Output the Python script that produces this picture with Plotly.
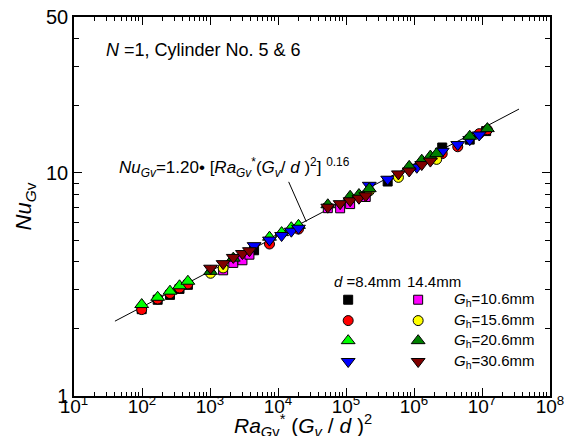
import plotly.graph_objects as go

# ---------------- data ----------------
# d = 8.4 mm
sq84_x = [99, 170, 258, 356, 473, 4450, 4.1e5, 2.6e6, 6.6e6, 1.15e7]
sq84_y = [2.45, 2.70, 2.84, 3.02, 3.15, 4.50, 9.15, 13.0, 14.1, 15.4]
ci84_x = [99, 170, 258, 356, 473, 7500, 2.0e4, 2.6e6, 4.4e6, 9.1e6, 1.2e7]
ci84_y = [2.44, 2.72, 2.88, 3.05, 3.18, 4.80, 5.60, 12.2, 13.1, 15.0, 15.6]
up84_x = [99, 170, 258, 356, 473, 7500, 1.13e4, 1.57e4, 2.0e4]
up84_y = [2.57, 2.77, 2.95, 3.12, 3.27, 5.15, 5.40, 5.68, 5.82]
dn84_x = [4450, 7500, 1.13e4, 1.57e4, 2.0e4, 2.2e5, 4.1e5, 1.1e6, 2.6e6, 4.4e6, 6.6e6, 9.1e6]
dn84_y = [4.72, 5.00, 5.24, 5.48, 5.65, 8.80, 9.37, 10.6, 12.5, 13.4, 14.1, 14.8]
# d = 14.4 mm
sq144_x = [1560, 2200, 3000, 3800, 5.4e4, 8.2e4, 1.15e5, 1.95e5]
sq144_y = [3.66, 3.95, 4.06, 4.30, 6.95, 6.94, 7.25, 7.80]
ci144_x = [1020, 1560, 2.2e5, 5.9e5, 2.15e6]
ci144_y = [3.55, 3.75, 8.30, 9.55, 11.5]
up144_x = [1020, 2200, 5.4e4, 1.15e5, 1.55e5, 2.2e5, 8.5e5, 1.3e6, 1.74e6, 2.15e6, 6.6e6, 1.2e7]
up144_y = [3.62, 4.15, 7.20, 7.86, 8.00, 8.50, 10.7, 11.4, 11.9, 12.2, 14.6, 15.8]
dn144_x = [1020, 1560, 2200, 3000, 3800, 5.4e4, 8.2e4, 1.15e5, 1.55e5, 1.95e5, 5.9e5, 8.5e5, 1.3e6, 1.74e6]
dn144_y = [3.74, 3.92, 4.18, 4.35, 4.48, 7.02, 7.28, 7.50, 7.70, 7.90, 9.90, 10.2, 10.9, 11.3]

# correlation Nu = C * X^n
fit_C = 1.20
fit_n = 0.16
fit_x = [40, 3.5e7]

gh_labels = ["10.6", "15.6", "20.6", "30.6"]
x_tickvals = [10, 100, 1e3, 1e4, 1e5, 1e6, 1e7, 1e8]
x_ticktext = ["10<sup>%d</sup>" % i for i in range(1, 9)]
y_tickvals = [1, 10, 50]
y_ticktext = ["1", "10", "50"]

FONT = "Arial, Liberation Sans, sans-serif"

series = [
    (sq84_x, sq84_y, "square", "#000000", 9),
    (ci84_x, ci84_y, "circle", "#ff0000", 10),
    (up84_x, up84_y, "triangle-up", "#00ff00", 12),
    (dn84_x, dn84_y, "triangle-down", "#0000ff", 12),
    (sq144_x, sq144_y, "square", "#ff00ff", 9),
    (ci144_x, ci144_y, "circle", "#ffff00", 10),
    (up144_x, up144_y, "triangle-up", "#008000", 12),
    (dn144_x, dn144_y, "triangle-down", "#800000", 12),
]

fig = go.Figure()

fig.add_trace(go.Scatter(
    x=fit_x, y=[fit_C * v ** fit_n for v in fit_x], mode="lines",
    line=dict(color="black", width=1), showlegend=False, hoverinfo="skip"))

for xs, ys, sym, col, sz in series:
    fig.add_trace(go.Scatter(
        x=xs, y=ys, mode="markers", showlegend=False,
        marker=dict(symbol=sym, color=col, size=sz,
                    line=dict(color="black", width=1))))

# ---------------- custom legend on an overlay axis (0..1) ----------------
leg_cols = [0.576, 0.723]
leg_rows = [0.254, 0.199, 0.146, 0.091]
for i, (xs, ys, sym, col, sz) in enumerate(series):
    c = i // 4
    r = i % 4
    fig.add_trace(go.Scatter(
        x=[leg_cols[c]], y=[leg_rows[r]], xaxis="x2", yaxis="y2",
        mode="markers", showlegend=False, hoverinfo="skip",
        marker=dict(symbol=sym, color=col, size=sz,
                    line=dict(color="black", width=1))))

annotations = []
for r, lab in enumerate(gh_labels):
    annotations.append(dict(
        xref="x2", yref="y2", x=0.795, y=leg_rows[r], xanchor="left",
        yanchor="middle", showarrow=False,
        text="<i>G</i><sub>h</sub>=%smm" % lab,
        font=dict(family=FONT, size=15, color="black")))
annotations.append(dict(
    xref="x2", yref="y2", x=0.541, y=0.301, xanchor="left", yanchor="middle",
    showarrow=False, text="<i>d</i> =8.4mm",
    font=dict(family=FONT, size=15, color="black")))
annotations.append(dict(
    xref="x2", yref="y2", x=0.695, y=0.301, xanchor="left", yanchor="middle",
    showarrow=False, text="14.4mm",
    font=dict(family=FONT, size=15, color="black")))
annotations.append(dict(
    xref="x2", yref="y2", x=0.063, y=0.912, xanchor="left", yanchor="middle",
    showarrow=False, text="<i>N</i> =1, Cylinder No. 5 &amp; 6",
    font=dict(family=FONT, size=18, color="black")))
annotations.append(dict(
    xref="x2", yref="y2", x=0.090, y=0.603, xanchor="left", yanchor="middle",
    showarrow=False,
    text=("<i>Nu</i><sub><i>Gv</i></sub>=1.20• [<i>Ra</i><sub><i>Gv</i></sub>"
          "<sup>*</sup>(<i>G</i><sub><i>v</i></sub>/ <i>d</i> )<sup>2</sup>] "
          "<sup>0.16</sup>"),
    font=dict(family=FONT, size=17, color="black")))
# x-axis title placed explicitly below the tick labels
annotations.append(dict(
    xref="paper", yref="paper", x=0.482, y=-0.034, xanchor="center",
    yanchor="top", showarrow=False,
    text=("<i>Ra</i><sub><i>G</i>v</sub><sup>*</sup> "
          "(<i>G</i><sub><i>v</i></sub> / <i>d</i> )<sup>2</sup>"),
    font=dict(family=FONT, size=21, color="black")))

shapes = [dict(type="line", xref="x2", yref="y2", x0=0.451, y0=0.565,
               x1=0.488, y1=0.460, line=dict(color="black", width=1))]

minor_x = [m * 10 ** e for e in range(1, 8) for m in range(2, 10)]
minor_y = [m for m in range(2, 10)] + [20, 30, 40]

fig.update_layout(
    width=565, height=436,
    margin=dict(l=74, r=15, t=17, b=40),
    paper_bgcolor="white", plot_bgcolor="white",
    font=dict(family=FONT, size=20, color="black"),
    annotations=annotations, shapes=shapes,
    xaxis=dict(
        type="log", range=[1, 8], showgrid=False, zeroline=False,
        automargin=False,
        showline=True, linecolor="black", linewidth=1.5, mirror="allticks",
        ticks="inside", ticklen=8, tickwidth=1, tickcolor="black",
        tickvals=x_tickvals, ticktext=x_ticktext,
        tickfont=dict(family=FONT, size=19), ticklabelstandoff=-8,
        minor=dict(tickvals=minor_x, ticks="inside", ticklen=4,
                   tickwidth=1, tickcolor="black", showgrid=False),
    ),
    yaxis=dict(
        type="log", range=[0, 1.69897], showgrid=False, zeroline=False,
        automargin=False,
        showline=True, linecolor="black", linewidth=1.5, mirror="allticks",
        ticks="inside", ticklen=8, tickwidth=1, tickcolor="black",
        tickvals=y_tickvals, ticktext=y_ticktext,
        tickfont=dict(family=FONT, size=20),
        minor=dict(tickvals=minor_y, ticks="inside", ticklen=5,
                   tickwidth=1, tickcolor="black", showgrid=False),
        title=dict(text="<i>Nu</i><sub><i>G</i>v</sub>",
                   font=dict(family=FONT, size=22), standoff=8),
    ),
    xaxis2=dict(overlaying="x", range=[0, 1], visible=False, anchor="y2"),
    yaxis2=dict(overlaying="y", range=[0, 1], visible=False, anchor="x2"),
)

fig.write_html("out.html")
